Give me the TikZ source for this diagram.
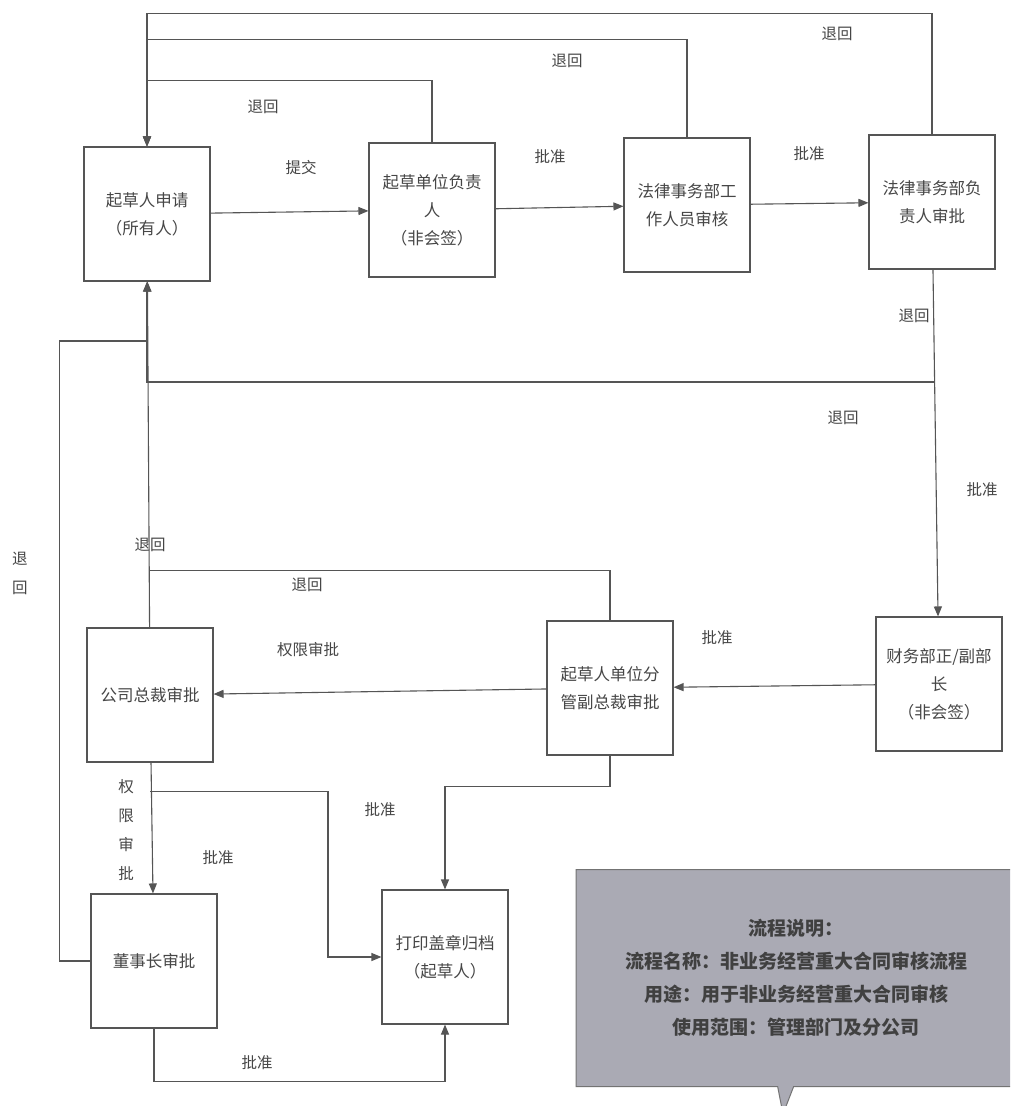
\documentclass[tikz,border=0pt]{standalone}
\usepackage{fontspec}
\setmainfont{Noto Sans CJK SC}
\usetikzlibrary{arrows.meta,shapes.callouts}
\definecolor{linegray}{RGB}{85,85,85}
\definecolor{txtgray}{RGB}{70,70,70}
\definecolor{notefill}{RGB}{170,170,180}

\begin{document}
\begin{tikzpicture}[x=1pt, y=-1pt,
    box/.style={rectangle, draw=linegray, line width=1.1pt, fill=white,
        minimum width=126pt, minimum height=134pt, inner sep=2pt,
        align=center, text=txtgray, font=\fontsize{16.5}{28}\selectfont},
    lbl/.style={text=txtgray, inner sep=1pt, align=center,
        font=\fontsize{15.5}{29}\selectfont},
    flow/.style={draw=linegray, line width=1.1pt, -{Triangle[length=10pt,width=8pt]}},
    link/.style={draw=linegray, line width=1.1pt},
    note/.style={rectangle callout, draw=black!55, fill=notefill, line width=1pt,
        minimum width=440pt, minimum height=217pt, align=center, text=black!75,
        callout pointer width=16pt, font=\fontsize{19}{33}\selectfont\bfseries}
]
    \path[use as bounding box, fill=white] (0,0) rectangle (1010,1106);
    \clip (0,0) rectangle (1010,1106);

    \node[box] (qcr) at (147,214) {起草人申请\\（所有人）};
    \node[box] (dwfz) at (432,210) {起草单位负责\\人\\（非会签）};
    \node[box] (flgz) at (687,205) {法律事务部工\\作人员审核};
    \node[box] (flfz) at (932,202) {法律事务部负\\责人审批};
    \node[box] (cwb) at (939,684) {财务部正/副部\\长\\（非会签）};
    \node[box] (fgfz) at (610,688) {起草人单位分\\管副总裁审批};
    \node[box] (zc) at (150,695) {公司总裁审批};
    \node[box] (dsz) at (154,961) {董事长审批};
    \node[box] (dy) at (445,957) {打印盖章归档\\（起草人）};

    \draw[flow] (qcr) -- (dwfz);
    \draw[flow] (dwfz) -- (flgz);
    \draw[flow] (flgz) -- (flfz);
    \draw[flow] (flfz) -- (cwb);
    \draw[flow] (cwb) -- (fgfz);
    \draw[flow] (fgfz) -- (zc);
    \draw[flow] (zc) -- (dsz);
    \draw[flow] (zc) -- (qcr);

    \draw[flow] (dwfz.north) -- ++(0,-62) -| (qcr.north);
    \draw[flow] (flgz.north) -- ++(0,-98) -| (qcr.north);
    \draw[flow] (flfz.north) -- ++(0,-121) -| (qcr.north);

    \coordinate (cwbj) at (934,382);
    \draw[flow] (cwbj) -| (qcr.south);
    \draw[link] (fgfz.north) -- ++(0,-50) coordinate (fgj) -- (fgj -| zc.north);
    \draw[link] (dsz.west) -- ++(-31,0) |- (qcr.south |- 0,341);

    \path (zc.south) ++(0,29) coordinate (zcj);
    \draw[flow] (zcj) -- ++(178,0) |- (dy.west);
    \draw[flow] (fgfz.south) -- ++(0,31) -| (dy.north);
    \draw[flow] (dsz.south) -- ++(0,53) -| (dy.south);

    \node[lbl] (l1) at (263,107) {退回};
    \node[lbl] (l2) at (567,61) {退回};
    \node[lbl] (l3) at (837,34) {退回};
    \node[lbl] (l4) at (301,168) {提交};
    \node[lbl] (l5) at (550,157) {批准};
    \node[lbl] (l6) at (809,154) {批准};
    \node[lbl] (l7) at (914,316) {退回};
    \node[lbl] (l8) at (843,418) {退回};
    \node[lbl] (l9) at (982,490) {批准};
    \node[lbl] (l10) at (717,638) {批准};
    \node[lbl] (l11) at (308,650) {权限审批};
    \node[lbl] (l12) at (150,545) {退回};
    \node[lbl] (l13) at (307,585) {退回};
    \node[lbl] (l14) at (20,573) {退\\回};
    \node[lbl] (l15) at (126,830) {权\\限\\审\\批};
    \node[lbl] (l16) at (218,858) {批准};
    \node[lbl] (l17) at (380,810) {批准};
    \node[lbl] (l18) at (257,1063) {批准};

    \node[note, callout absolute pointer={(783,1114)}] (sm) at (796,978)
        {流程说明：\\流程名称：非业务经营重大合同审核流程\\用途：用于非业务经营重大合同审核\\使用范围：管理部门及分公司};
\end{tikzpicture}
\end{document}
